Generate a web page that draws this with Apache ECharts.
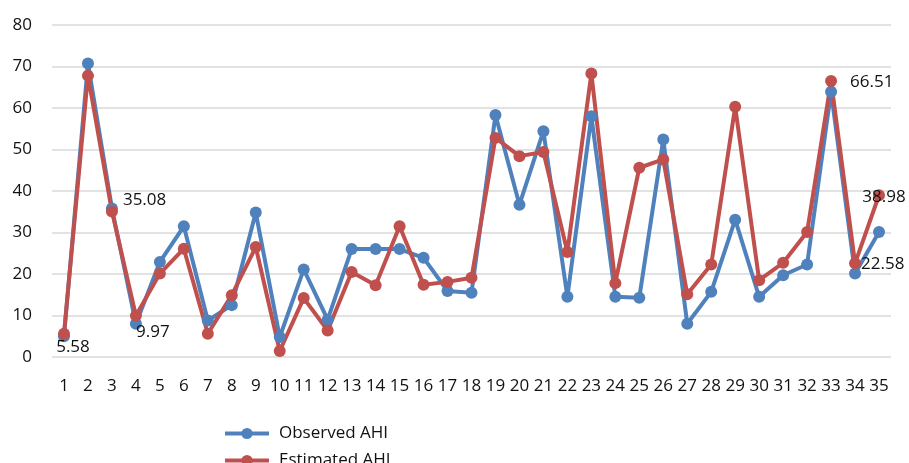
<!DOCTYPE html>
<html>
<head>
<meta charset="utf-8">
<title>Observed vs Estimated AHI</title>
<script src="https://cdn.jsdelivr.net/npm/echarts@6/dist/echarts.min.js"></script>
<style>
  html, body { margin: 0; padding: 0; background: #fff; }
  #chart { width: 909px; height: 463px; }
</style>
</head>
<body>
<div id="chart"></div>
<script>
// Subject numbers 1..35
const categories = ['1','2','3','4','5','6','7','8','9','10','11','12','13','14','15','16','17','18',
  '19','20','21','22','23','24','25','26','27','28','29','30','31','32','33','34','35'];

const observedAHI = [5.0, 70.7, 35.8, 8.0, 22.9, 31.5, 8.8, 12.5, 34.8, 4.8, 21.1, 9.0,
  26.0, 26.0, 26.0, 23.9, 15.9, 15.5, 58.3, 36.7, 54.4, 14.5, 58.0, 14.5, 14.3, 52.4,
  8.0, 15.7, 33.1, 14.5, 19.7, 22.3, 63.9, 20.1, 30.1];

const estimatedAHI = [5.58, 67.8, 35.08, 9.97, 20.1, 26.1, 5.6, 14.9, 26.5, 1.45, 14.2, 6.4,
  20.5, 17.3, 31.5, 17.4, 18.1, 19.1, 52.8, 48.4, 49.4, 25.3, 68.3, 17.8, 45.6, 47.6,
  15.1, 22.3, 60.3, 18.5, 22.7, 30.1, 66.51, 22.58, 38.98];

const seriesNames = ['Observed AHI', 'Estimated AHI'];

const yTicks = { min: 0, max: 80, interval: 10 };

// Value labels shown on selected points of the estimated series
const labelPlacement = {
  0:  { position: 'bottom', offset: [9, -6] },
  2:  { position: 'right',  offset: [0, -11] },
  3:  { position: 'bottom', offset: [17, -3] },
  32: { position: 'right',  offset: [8, 1] },
  33: { position: 'right',  offset: [-5, 1] },
  34: { position: 'inside', offset: [5, 2] }
};

const FONT = '"Open Sans", "Noto Sans", sans-serif';
const FS = 17;
const TEXT = '#111';
const BLUE = '#4F81BD';
const RED = '#C0504D';

const estimatedData = estimatedAHI.map((v, i) => {
  const p = labelPlacement[i];
  if (!p) return v;
  return {
    value: v,
    label: {
      show: true,
      position: p.position,
      distance: 5,
      offset: p.offset,
      formatter: String(v),
      color: TEXT,
      fontSize: FS,
      fontFamily: FONT
    }
  };
});

// One legend box per entry so the two rows stack below the plot
function legendRow(name, top) {
  return {
    orient: 'vertical',
    left: 218,
    top: top,
    itemWidth: 44,
    itemHeight: 14,
    lineStyle: { width: 4 },
    textStyle: { fontSize: FS, fontFamily: FONT, color: TEXT, padding: [0, 0, 0, 5] },
    data: [name]
  };
}

const chart = echarts.init(document.getElementById('chart'), null, { renderer: 'canvas' });

chart.setOption({
  animation: false,
  backgroundColor: '#fff',
  grid: { left: 52, right: 18, top: 25, bottom: 106, containLabel: false },
  legend: [legendRow(seriesNames[0], 420), legendRow(seriesNames[1], 447)],
  xAxis: {
    type: 'category',
    data: categories,
    boundaryGap: true,
    axisLine: { show: false },
    axisTick: { show: false },
    axisLabel: { interval: 0, margin: 21, fontSize: FS, fontFamily: FONT, color: TEXT },
    splitLine: { show: false }
  },
  yAxis: {
    type: 'value',
    min: yTicks.min,
    max: yTicks.max,
    interval: yTicks.interval,
    axisLine: { show: false },
    axisTick: { show: false },
    axisLabel: { margin: 20, fontSize: FS, fontFamily: FONT, color: TEXT },
    splitLine: { lineStyle: { color: '#D9D9D9', width: 1.5 } }
  },
  series: [
    {
      name: seriesNames[0],
      type: 'line',
      data: observedAHI,
      symbol: 'circle',
      symbolSize: 12,
      color: BLUE,
      lineStyle: { width: 4, color: BLUE },
      itemStyle: { color: BLUE }
    },
    {
      name: seriesNames[1],
      type: 'line',
      data: estimatedData,
      symbol: 'circle',
      symbolSize: 12,
      color: RED,
      lineStyle: { width: 4, color: RED },
      itemStyle: { color: RED }
    }
  ]
});
</script>
</body>
</html>
